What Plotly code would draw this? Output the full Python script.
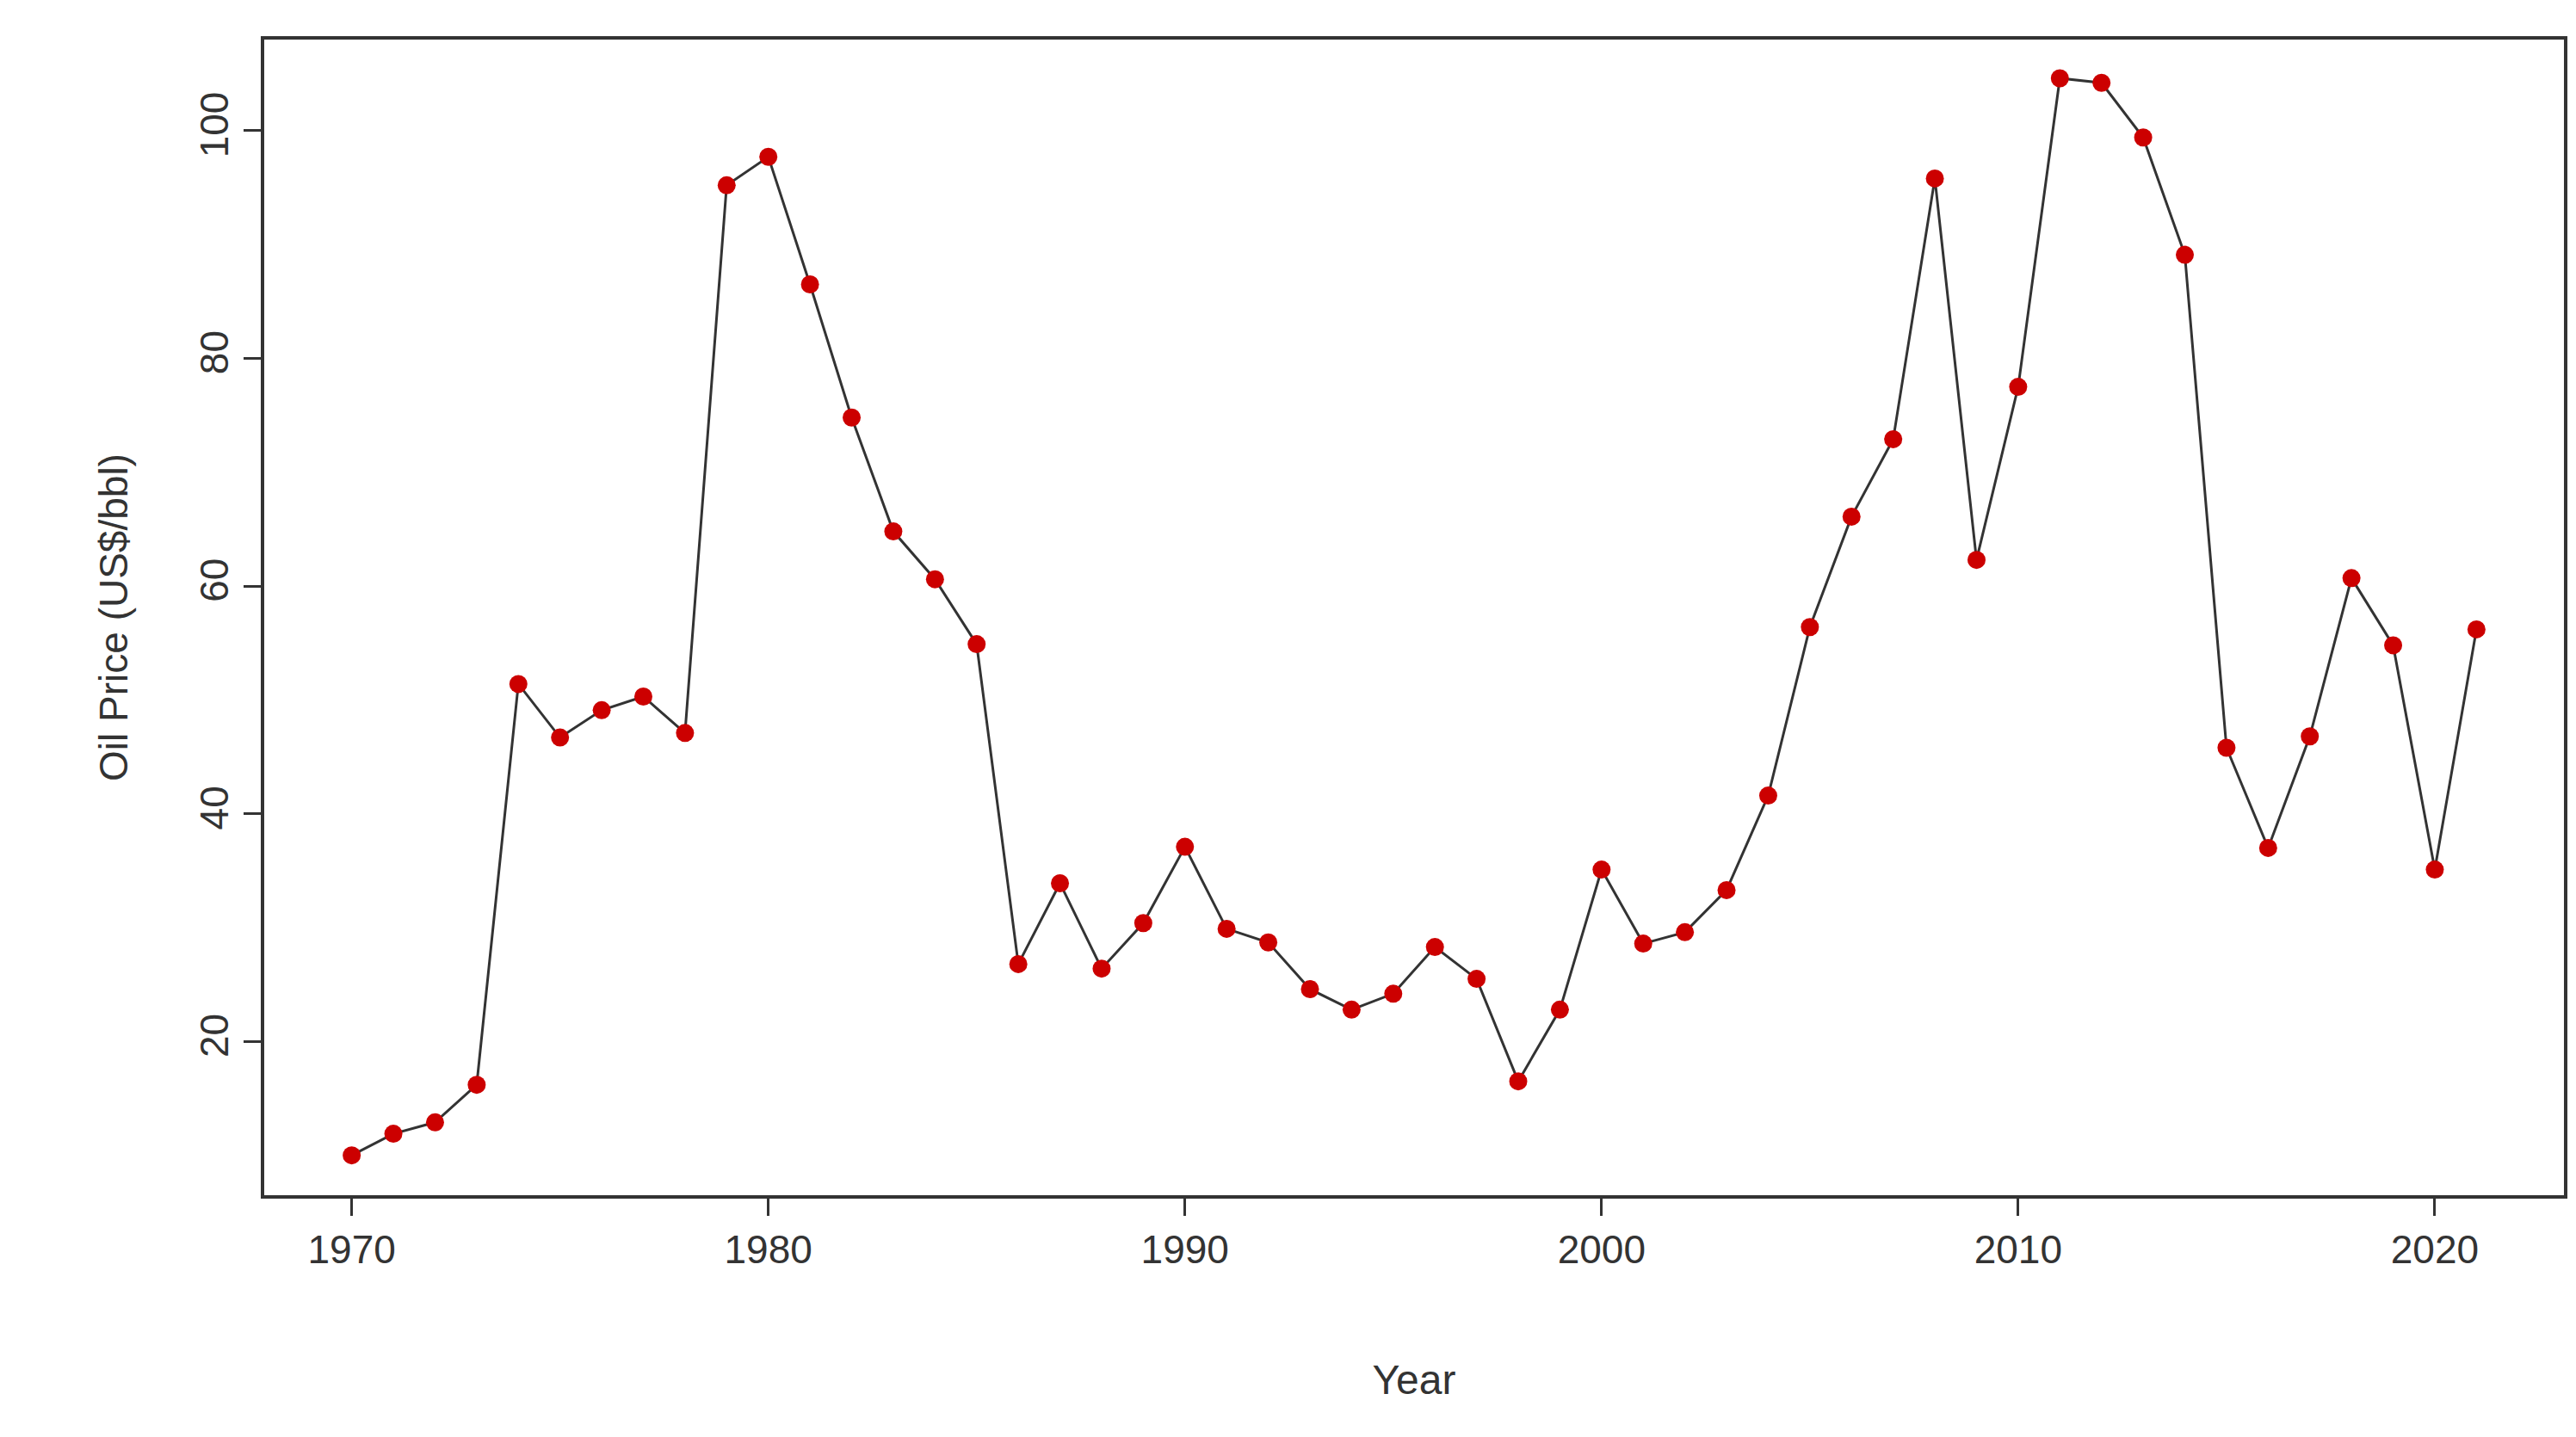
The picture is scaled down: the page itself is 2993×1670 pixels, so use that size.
import plotly.graph_objects as go

years = list(range(1970, 2022))
prices = [10.0, 11.9, 12.9, 16.2, 51.4, 46.7, 49.1, 50.3, 47.1, 95.2,
          97.7, 86.5, 74.8, 64.8, 60.6, 54.9, 26.8, 33.9, 26.4, 30.4,
          37.1, 29.9, 28.7, 24.6, 22.8, 24.2, 28.3, 25.5, 16.5, 22.8,
          35.1, 28.6, 29.6, 33.3, 41.6, 56.4, 66.1, 72.9, 95.8, 62.3,
          77.5, 104.6, 104.2, 99.4, 89.1, 45.8, 37.0, 46.8, 60.7, 54.8,
          35.1, 56.2]

fig = go.Figure(go.Scatter(
    x=years, y=prices, mode='lines+markers',
    line=dict(color='#333333', width=3),
    marker=dict(color='#cc0000', size=21),
))

axis_common = dict(
    showgrid=False, zeroline=False, showline=True, mirror=True,
    linecolor='#333333', linewidth=4, ticks='outside', ticklen=20,
    tickwidth=3, tickcolor='#333333', automargin=False,
    tickfont=dict(size=46, color='#333333'),
)

fig.update_layout(
    width=2993, height=1670,
    paper_bgcolor='white', plot_bgcolor='white',
    font=dict(family='Liberation Sans, Arial', color='#333333'),
    showlegend=False,
    margin=dict(l=299, r=22, t=38, b=289, autoexpand=False),
    xaxis=dict(axis_common, range=[1967.9, 2023.1], tickvals=[1970, 1980, 1990, 2000, 2010, 2020],
               title=dict(text='Year', font=dict(size=48), standoff=110)),
    yaxis=dict(axis_common, range=[6.5, 108], tickvals=[20, 40, 60, 80, 100], tickangle=-90,
               title=dict(text='Oil Price (US$/bbl)', font=dict(size=46), standoff=60)),
)

fig.write_html("out.html")
